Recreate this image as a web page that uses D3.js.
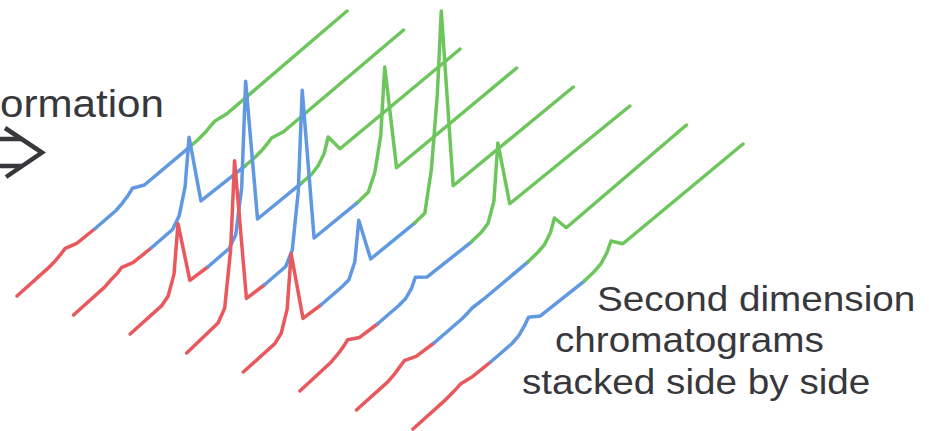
<!DOCTYPE html>
<html>
<head>
<meta charset="utf-8">
<script src="https://cdn.jsdelivr.net/npm/d3@7"></script>
<style>
	html, body { margin: 0; padding: 0; background: #fff; }
	svg { display: block; }
</style>
</head>
<body>
<div id="chart"></div>
<script>

// second dimension retention time (0 = start of each modulation, 1 = end)
var retention = [0, 0.095, 0.115, 0.133, 0.145, 0.181, 0.236, 0.30, 0.32, 0.338, 0.35, 0.386, 0.52, 0.55, 0.57, 0.588, 0.60, 0.636, 1.0];

// detector signal of each second dimension chromatogram, back to front
var slice1 = [0, 1, 2, 4, 6, 1, 0, 0, 2, 5, 8, 1, 0, 0, 1, 3, 4, 1, 0];
var slice2 = [0, 1, 3, 4, 6, 1, 0, 0, 8, 32, 78, 4, 1, 1, 2, 4, 6, 2, 0];
var slice3 = [0, 1, 5, 22, 69, 2, 0, 0, 8, 50, 153, 5, 3, 3, 6, 13, 26, 4, 0];
var slice4 = [0, 3, 12, 65, 151, 3, 1, 1, 12, 65, 163, 5, 3, 4, 18, 50, 115, 4, 0];
var slice5 = [0, 1, 6, 25, 77, 2, 0, 0, 1, 14, 52, 3, 1, 2, 40, 110, 190, 5, 0];
var slice6 = [0, 2, 4, 7, 10, 2, 0, 0, 1, 6, 14, 4, 1, 2, 5, 22, 77, 6, 0];
var slice7 = [0, 1, 3, 6, 8, 2, 0, 0, 0, 1, 2, 1, 0, 1, 3, 10, 21, 1, 0];
var slice8 = [0, 1, 2, 3, 4, 1, 0, 0, 2, 7, 12, 3, 0, 1, 3, 9, 17, 4, 0];

var slices = [slice1, slice2, slice3, slice4, slice5, slice6, slice7, slice8];

// retention windows that get their own colour
var windowBounds = [0, 0.236, 0.52, 1];
var windowColors = ['#e8585c', '#6198e2', '#6cc65c'];

var width = 929;
var height = 431;

var svg = d3.select('#chart')
		.append('svg')
		.attr('width', width)
		.attr('height', height);

svg.append('rect')
		.attr('width', width)
		.attr('height', height)
		.attr('fill', '#fff');


// oblique projection: retention runs up to the right,
// slices step down to the right, signal goes straight up
var tx = d3.scaleLinear().domain([0, 1]).range([0, 330]);
var ty = d3.scaleLinear().domain([0, 1]).range([0, -285]);
var sx = d3.scaleLinear().domain([0, slices.length - 1]).range([17, 413]);
var sy = d3.scaleLinear().domain([0, slices.length - 1]).range([296, 429]);
var hy = d3.scaleLinear().domain([0, 200]).range([0, 200]);

var line = d3.line()
		.x(function (d) { return sx(d.slice) + tx(d.t); })
		.y(function (d) { return sy(d.slice) + ty(d.t) - hy(d.v); });

var traces = svg.append('g')
		.attr('fill', 'none')
		.attr('stroke-width', 3.5)
		.attr('stroke-linejoin', 'round')
		.attr('stroke-linecap', 'round');

slices.forEach(function (values, i) {

	var points = values.map(function (v, k) {
		return { slice : i, t : retention[k], v : v };
	});

	windowColors.forEach(function (color, w) {

		var part = points.filter(function (p) {
			return p.t >= windowBounds[w] && p.t <= windowBounds[w + 1];
		});

		traces.append('path')
				.attr('d', line(part))
				.attr('stroke', color);
	});
});


// labels
var textColor = '#38383c';

svg.append('text')
		.attr('transform', 'translate(0,117) scale(1.08,1)')
		.attr('font-family', 'Liberation Sans, Arial, sans-serif')
		.attr('font-size', '39px')
		.attr('fill', textColor)
		.text('ormation');

// double arrow under the label
var arrow = svg.append('g')
		.attr('fill', 'none')
		.attr('stroke', textColor)
		.attr('stroke-width', 4.5)
		.attr('stroke-linejoin', 'miter');

arrow.append('path')
		.attr('d', 'M5,128 L42,152.5 L6,177');

arrow.append('path')
		.attr('d', 'M-5,139 L21,139 M-5,166 L22,166');

var notes = [
	{ text : 'Second dimension', x : 597, y : 311 },
	{ text : 'chromatograms', x : 555, y : 352 },
	{ text : 'stacked side by side', x : 522, y : 394 }
];

svg.selectAll('text.note')
		.data(notes)
		.enter()
		.append('text')
		.classed('note', true)
		.attr('transform', function (d) { return 'translate(' + d.x + ',' + d.y + ') scale(1.09,1)'; })
		.attr('font-family', 'Liberation Sans, Arial, sans-serif')
		.attr('font-size', '35.5px')
		.attr('fill', textColor)
		.text(function (d) { return d.text; });

</script>
</body>
</html>
